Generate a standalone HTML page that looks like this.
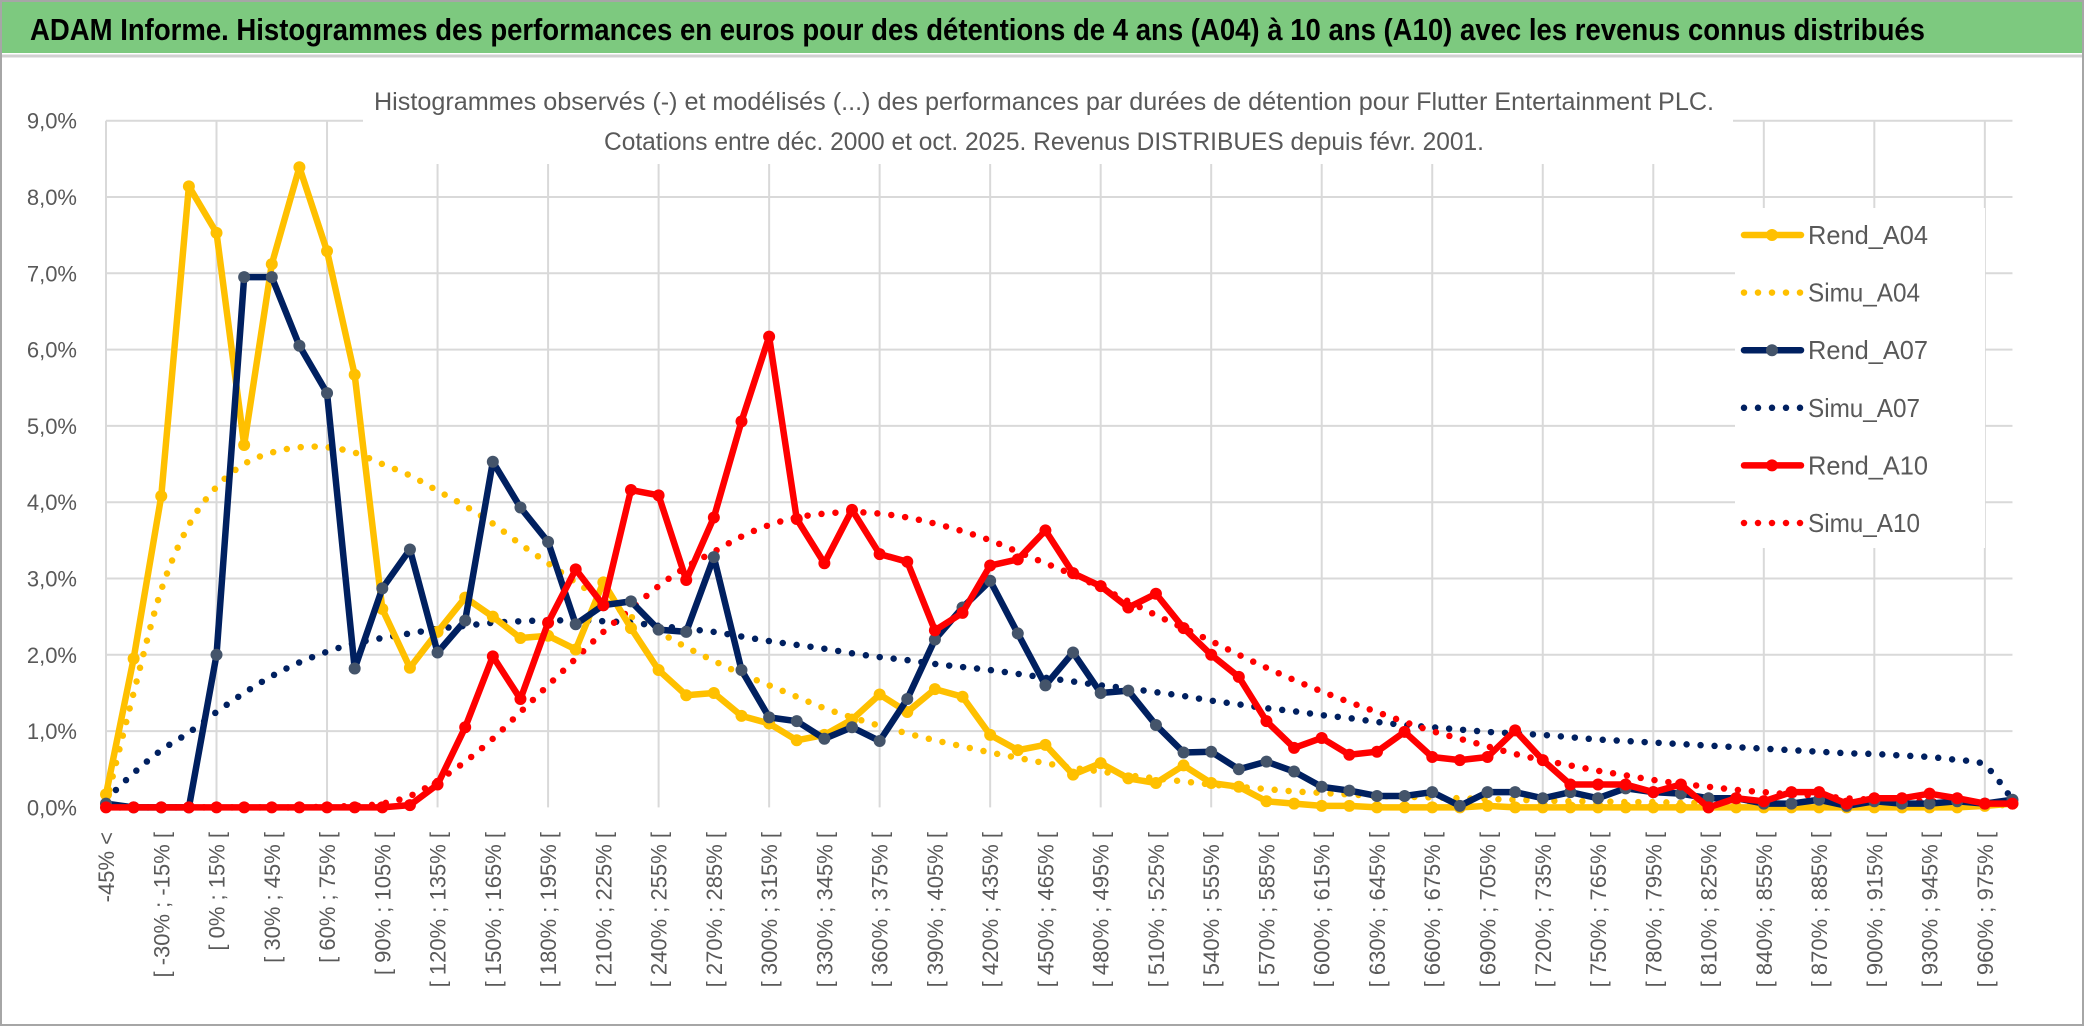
<!DOCTYPE html>
<html><head><meta charset="utf-8">
<style>
html,body{margin:0;padding:0;background:#fff;}
svg{display:block;font-family:"Liberation Sans",sans-serif;}
</style></head>
<body>
<svg id="chart" width="2086" height="1033" viewBox="0 0 2086 1033" xmlns="http://www.w3.org/2000/svg">
<rect x="0" y="0" width="2086" height="1033" fill="#fff"/>
<rect x="1" y="1" width="2082" height="1024" fill="none" stroke="#a6a6a6" stroke-width="2"/>
<rect x="2" y="2" width="2080" height="51" fill="#7dc97f"/>
<line x1="2" y1="56" x2="2082" y2="56" stroke="#d0d0d0" stroke-width="3"/>
<text x="30" y="40" font-size="31" font-weight="bold" fill="#000" textLength="1895" lengthAdjust="spacingAndGlyphs">ADAM Informe. Histogrammes des performances en euros pour des détentions de 4 ans (A04) à 10 ans (A10) avec les revenus connus distribués</text>
<g id="grid"></g>
<rect x="363" y="82" width="1370" height="82" fill="#fff"/>
<text x="1044" y="110" font-size="25" fill="#595959" text-anchor="middle" textLength="1340" lengthAdjust="spacingAndGlyphs">Histogrammes observés (-) et modélisés (...) des performances par durées de détention pour Flutter Entertainment PLC.</text>
<text x="1044" y="150" font-size="25" fill="#595959" text-anchor="middle" textLength="880" lengthAdjust="spacingAndGlyphs">Cotations entre déc. 2000 et oct. 2025. Revenus DISTRIBUES depuis févr. 2001.</text>
<g id="yaxis"></g>
<g id="xaxis"></g>
<g id="series"></g>
<g id="legend"></g>
</svg>
<script>
const yTicks=[0,1,2,3,4,5,6,7,8,9];
const rendA04=[0.17,1.95,4.08,8.14,7.53,4.75,7.12,8.39,7.29,5.67,2.6,1.83,2.3,2.75,2.5,2.22,2.25,2.07,2.95,2.35,1.8,1.47,1.5,1.2,1.1,0.88,0.95,1.15,1.48,1.25,1.55,1.45,0.95,0.75,0.82,0.43,0.58,0.38,0.32,0.55,0.32,0.27,0.08,0.05,0.02,0.02,0,0,0,0,0.02,0,0,0,0,0,0,0,0,0,0,0,0,0,0,0,0,0,0.02,0.05];
const simuA04=[0.05,1.5,2.85,3.7,4.2,4.5,4.65,4.72,4.72,4.65,4.5,4.35,4.15,3.95,3.72,3.45,3.2,2.95,2.72,2.5,2.3,2.1,1.92,1.75,1.6,1.45,1.3,1.18,1.07,0.97,0.88,0.8,0.72,0.65,0.58,0.52,0.47,0.42,0.38,0.34,0.3,0.27,0.24,0.21,0.19,0.17,0.15,0.14,0.13,0.12,0.11,0.1,0.09,0.08,0.08,0.07,0.07,0.06,0.06,0.05,0.05,0.05,0.04,0.04,0.04,0.03,0.03,0.03,0.03,0.03];
const rendA07=[0.05,0,0,0,2.0,6.95,6.95,6.05,5.43,1.82,2.87,3.38,2.03,2.45,4.53,3.93,3.48,2.4,2.65,2.7,2.33,2.3,3.28,1.8,1.18,1.13,0.9,1.05,0.87,1.42,2.2,2.62,2.97,2.28,1.6,2.03,1.5,1.53,1.08,0.72,0.73,0.5,0.6,0.47,0.27,0.22,0.15,0.15,0.2,0.02,0.2,0.2,0.12,0.2,0.12,0.25,0.2,0.18,0.12,0.12,0.05,0.05,0.1,0.02,0.08,0.05,0.05,0.08,0.05,0.1];
const simuA07=[0.1,0.45,0.75,0.98,1.25,1.5,1.72,1.9,2.04,2.15,2.22,2.28,2.34,2.38,2.42,2.44,2.45,2.45,2.44,2.42,2.38,2.34,2.3,2.24,2.18,2.13,2.08,2.02,1.97,1.93,1.88,1.84,1.8,1.75,1.7,1.65,1.6,1.56,1.51,1.46,1.4,1.35,1.3,1.26,1.21,1.17,1.12,1.08,1.05,1.02,0.99,0.97,0.95,0.92,0.89,0.87,0.85,0.83,0.81,0.79,0.77,0.75,0.73,0.71,0.7,0.68,0.66,0.62,0.55,0.1];
const rendA10=[0,0,0,0,0,0,0,0,0,0,0,0.03,0.3,1.05,1.98,1.42,2.42,3.12,2.65,4.16,4.09,2.98,3.8,5.06,6.17,3.78,3.2,3.9,3.32,3.22,2.32,2.55,3.17,3.25,3.63,3.07,2.9,2.62,2.8,2.35,2.0,1.71,1.13,0.78,0.91,0.69,0.73,0.99,0.66,0.62,0.66,1.01,0.62,0.3,0.3,0.3,0.2,0.3,0,0.12,0.08,0.2,0.2,0.05,0.12,0.12,0.18,0.12,0.05,0.05];
const simuA10=[0,0,0,0,0,0,0,0,0.01,0.02,0.05,0.15,0.35,0.6,0.9,1.25,1.6,1.95,2.3,2.6,2.9,3.15,3.35,3.55,3.7,3.8,3.85,3.87,3.85,3.8,3.72,3.62,3.5,3.35,3.2,3.05,2.88,2.7,2.52,2.35,2.18,2.0,1.83,1.67,1.52,1.38,1.25,1.12,1.0,0.9,0.8,0.7,0.62,0.55,0.48,0.42,0.36,0.31,0.27,0.23,0.2,0.17,0.15,0.12,0.1,0.09,0.08,0.07,0.06,0.05];
const legendLabels=["Rend_A04","Simu_A04","Rend_A07","Simu_A07","Rend_A10","Simu_A10"];

const NS="http://www.w3.org/2000/svg";
const X0=106, STEP=27.63, Y0=807.4, YU=76.3;
function xs(i){return X0+i*STEP;}
function ys(v){return Y0-v*YU;}
function mk(tag,attrs,parent){const e=document.createElementNS(NS,tag);for(const k in attrs)e.setAttribute(k,attrs[k]);parent.appendChild(e);return e;}
function catLabel(i){
  if(i===0) return "-45% <";
  const lo=-45+(i-1)*15; return "[ "+lo+"% ; "+(lo+15)+"% [";
}
const N=rendA04.length;
const grid=document.getElementById('grid');
const gTop=120.7, gStep=76.3;
for(let k=0;k<9;k++){
  const y=gTop+k*gStep;
  const l=mk('line',{x1:X0,y1:y,x2:xs(N-1),y2:y,stroke:'#d9d9d9','stroke-width':2},grid);
  
  
}
for(let i=0;i<N;i+=4){
  const x=xs(i);
  const l=mk('line',{x1:x,y1:gTop,x2:x,y2:Y0,stroke:'#d9d9d9','stroke-width':2},grid);
  
  
}
const ya=document.getElementById('yaxis');
yTicks.forEach(v=>{
  const t=mk('text',{x:77,y:ys(v)+8,'font-size':22,fill:'#595959','text-anchor':'end'},ya);
  t.textContent=v.toFixed(1).replace('.',',')+'%';
  
  
});
const xa=document.getElementById('xaxis');
for(let i=0;i<N;i++){
  if(i%2===1) continue;
  const x=xs(i)+8;
  const t=mk('text',{x:x,y:832,'font-size':22,fill:'#595959','text-anchor':'end',transform:`rotate(-90 ${x} 832)`},xa);
  t.textContent=catLabel(i);
  
  
}
const sg=document.getElementById('series');
function smoothPath(arr){
  const p=arr.map((v,i)=>[xs(i),ys(v)]);
  let d=`M${p[0][0]},${p[0][1]}`;
  for(let i=0;i<p.length-1;i++){
    const p0=p[Math.max(0,i-1)],p1=p[i],p2=p[i+1],p3=p[Math.min(p.length-1,i+2)];
    const c1=[p1[0]+(p2[0]-p0[0])/6,p1[1]+(p2[1]-p0[1])/6];
    const c2=[p2[0]-(p3[0]-p1[0])/6,p2[1]-(p3[1]-p1[1])/6];
    d+=`C${c1[0]},${c1[1]} ${c2[0]},${c2[1]} ${p2[0]},${p2[1]}`;
  }
  return d;
}
function drawSimu(arr,color,name){
  const pth=mk('path',{d:smoothPath(arr),fill:'none',stroke:color,'stroke-width':6.5,'stroke-linecap':'round','stroke-dasharray':'0 14'},sg);
  
  
}
function drawRend(arr,color,mcolor,name){
  const pts=arr.map((v,i)=>xs(i)+','+ys(v)).join(' ');
  const pl=mk('polyline',{points:pts,fill:'none',stroke:color,'stroke-width':6.5,'stroke-linejoin':'round'},sg);
  
  
  arr.forEach((v,i)=>{
    const c=mk('circle',{cx:xs(i),cy:ys(v),r:6,fill:mcolor},sg);
    
    
  });
}
drawSimu(simuA04,'#ffc000','simu-a04');
drawSimu(simuA07,'#002060','simu-a07');
drawSimu(simuA10,'#ff0000','simu-a10');
drawRend(rendA04,'#ffc000','#ffc000','rend-a04');
drawRend(rendA07,'#002060','#44546a','rend-a07');
drawRend(rendA10,'#ff0000','#ff0000','rend-a10');
const lg=document.getElementById('legend');
const bg=mk('rect',{x:1735,y:208,width:250,height:340,fill:'#fff'},lg);


const lcol=['#ffc000','#ffc000','#002060','#002060','#ff0000','#ff0000'];
const mcol=['#ffc000',null,'#44546a',null,'#ff0000',null];
legendLabels.forEach((lab,k)=>{
  const y=235+k*57.6;
  const g=mk('g',{},lg);
  
  
  if(mcol[k]){
    mk('line',{x1:1744,y1:y,x2:1801,y2:y,stroke:lcol[k],'stroke-width':6.5,'stroke-linecap':'round'},g);
    mk('circle',{cx:1772,cy:y,r:6,fill:mcol[k]},g);
  } else {
    mk('line',{x1:1744,y1:y,x2:1801,y2:y,stroke:lcol[k],'stroke-width':6.5,'stroke-linecap':'round','stroke-dasharray':'0 14'},g);
  }
  const t=mk('text',{x:1808,y:y+9,'font-size':26,fill:'#595959',textLength:(k%2?112:120),lengthAdjust:'spacingAndGlyphs'},g);
  t.textContent=lab;
});
</script>
</body></html>
